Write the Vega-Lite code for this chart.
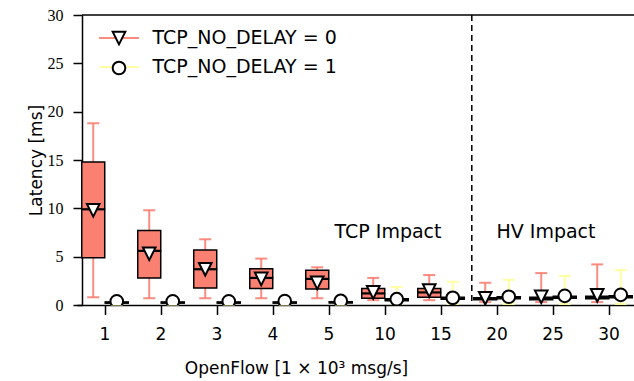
{
  "$schema": "https://vega.github.io/schema/vega-lite/v6.json",
  "width": 552,
  "height": 290,
  "autosize": "none",
  "padding": {"left": 82, "top": 15, "right": 0, "bottom": 76},
  "config": {
    "view": {"stroke": null},
    "font": "DejaVu Sans",
    "axis": {"grid": false, "domainColor": "black", "tickColor": "black", "labelColor": "black", "titleColor": "black", "domainWidth": 1.5, "tickWidth": 1.5, "titleFontWeight": "normal"},
    "axisX": {"labelFont": "DejaVu Sans", "labelFontSize": 17, "labelAngle": 0, "tickSize": 9.5, "labelPadding": 12, "titleFont": "DejaVu Sans", "titleFontSize": 17, "titleX": 214, "titleY": 68, "titleBaseline": "alphabetic", "titleAlign": "center"},
    "axisY": {"labelFont": "Liberation Serif", "labelFontSize": 16, "tickSize": 9, "labelPadding": 10, "titleFont": "DejaVu Sans", "titleFontSize": 17, "titleX": -41, "titleY": 145, "titleBaseline": "alphabetic", "titleAngle": 270, "titleAlign": "center"}
  },
  "layer": [
    {
      "data": {"values": [
        {"cat": "1", "series": "TCP_NO_DELAY = 0", "lo": 0.8, "q1": 4.9, "med": 9.9, "q3": 14.8, "hi": 18.8, "mean": 9.8},
        {"cat": "2", "series": "TCP_NO_DELAY = 0", "lo": 0.7, "q1": 2.8, "med": 5.6, "q3": 7.7, "hi": 9.8, "mean": 5.3},
        {"cat": "3", "series": "TCP_NO_DELAY = 0", "lo": 0.7, "q1": 1.75, "med": 3.7, "q3": 5.7, "hi": 6.8, "mean": 3.7},
        {"cat": "4", "series": "TCP_NO_DELAY = 0", "lo": 0.7, "q1": 1.7, "med": 2.8, "q3": 3.75, "hi": 4.8, "mean": 2.7},
        {"cat": "5", "series": "TCP_NO_DELAY = 0", "lo": 0.7, "q1": 1.65, "med": 2.7, "q3": 3.6, "hi": 3.9, "mean": 2.3},
        {"cat": "10", "series": "TCP_NO_DELAY = 0", "lo": 0.5, "q1": 0.7, "med": 1.2, "q3": 1.7, "hi": 2.8, "mean": 1.3},
        {"cat": "15", "series": "TCP_NO_DELAY = 0", "lo": 0.5, "q1": 0.8, "med": 1.3, "q3": 1.7, "hi": 3.1, "mean": 1.5},
        {"cat": "20", "series": "TCP_NO_DELAY = 0", "lo": 0.3, "q1": 0.55, "med": 0.65, "q3": 0.75, "hi": 2.3, "mean": 0.7},
        {"cat": "25", "series": "TCP_NO_DELAY = 0", "lo": 0.3, "q1": 0.55, "med": 0.7, "q3": 0.8, "hi": 3.3, "mean": 0.85},
        {"cat": "30", "series": "TCP_NO_DELAY = 0", "lo": 0.3, "q1": 0.65, "med": 0.8, "q3": 0.9, "hi": 4.2, "mean": 1.0},
        {"cat": "1", "series": "TCP_NO_DELAY = 1", "lo": 0.05, "q1": 0.2, "med": 0.25, "q3": 0.3, "hi": 0.6, "mean": 0.38},
        {"cat": "2", "series": "TCP_NO_DELAY = 1", "lo": 0.05, "q1": 0.2, "med": 0.25, "q3": 0.3, "hi": 0.6, "mean": 0.38},
        {"cat": "3", "series": "TCP_NO_DELAY = 1", "lo": 0.05, "q1": 0.2, "med": 0.25, "q3": 0.3, "hi": 0.6, "mean": 0.38},
        {"cat": "4", "series": "TCP_NO_DELAY = 1", "lo": 0.05, "q1": 0.2, "med": 0.25, "q3": 0.3, "hi": 0.7, "mean": 0.4},
        {"cat": "5", "series": "TCP_NO_DELAY = 1", "lo": 0.05, "q1": 0.22, "med": 0.28, "q3": 0.34, "hi": 0.8, "mean": 0.42},
        {"cat": "10", "series": "TCP_NO_DELAY = 1", "lo": 0.1, "q1": 0.45, "med": 0.55, "q3": 0.65, "hi": 1.85, "mean": 0.6},
        {"cat": "15", "series": "TCP_NO_DELAY = 1", "lo": 0.1, "q1": 0.6, "med": 0.7, "q3": 0.8, "hi": 2.4, "mean": 0.75},
        {"cat": "20", "series": "TCP_NO_DELAY = 1", "lo": 0.1, "q1": 0.65, "med": 0.75, "q3": 0.85, "hi": 2.6, "mean": 0.85},
        {"cat": "25", "series": "TCP_NO_DELAY = 1", "lo": 0.1, "q1": 0.7, "med": 0.8, "q3": 0.9, "hi": 3.0, "mean": 0.95},
        {"cat": "30", "series": "TCP_NO_DELAY = 1", "lo": 0.1, "q1": 0.75, "med": 0.85, "q3": 0.95, "hi": 3.6, "mean": 1.05}
      ]},
      "encoding": {
        "x": {"field": "cat", "type": "nominal", "title": "OpenFlow [1 × 10³ msg/s]", "scale": {"domain": ["1", "2", "3", "4", "5", "10", "15", "20", "25", "30"], "range": [-5, 555], "paddingInner": 0, "paddingOuter": 0}},
        "xOffset": {"field": "series", "type": "nominal", "scale": {"domain": ["TCP_NO_DELAY = 0", "TCP_NO_DELAY = 1"], "paddingInner": 0, "paddingOuter": 0.19}}
      },
      "layer": [
        {
          "mark": {"type": "rule", "strokeWidth": 2, "opacity": 0.9},
          "encoding": {
            "y": {"field": "lo", "type": "quantitative", "title": "Latency [ms]", "scale": {"domain": [0, 30], "nice": false}, "axis": {"values": [0, 5, 10, 15, 20, 25, 30]}},
            "y2": {"field": "hi"},
            "stroke": {"field": "series", "type": "nominal", "scale": {"domain": ["TCP_NO_DELAY = 0", "TCP_NO_DELAY = 1"], "range": ["#fa8072", "#ffff99"]},
              "legend": {"title": null, "orient": "none", "legendX": 27.5, "legendY": 13.5, "padding": 0, "symbolType": "M -3.16 0 L 3.16 0", "symbolSize": 160, "symbolStrokeWidth": 2, "labelFont": "DejaVu Sans", "labelFontSize": 19, "labelColor": "black", "labelOffset": 24, "labelLimit": 0, "rowPadding": 9}}
          }
        },
        {
          "mark": {"type": "tick", "size": 12, "thickness": 2, "opacity": 0.9},
          "encoding": {
            "y": {"field": "hi", "type": "quantitative", "title": "Latency [ms]"},
            "color": {"field": "series", "type": "nominal", "scale": {"domain": ["TCP_NO_DELAY = 0", "TCP_NO_DELAY = 1"], "range": ["#fa8072", "#ffff99"]}, "legend": null}
          }
        },
        {
          "mark": {"type": "tick", "size": 12, "thickness": 2, "opacity": 0.9},
          "encoding": {
            "y": {"field": "lo", "type": "quantitative", "title": "Latency [ms]"},
            "color": {"field": "series", "type": "nominal", "legend": null}
          }
        },
        {
          "mark": {"type": "bar", "size": 23, "stroke": "black", "strokeWidth": 1.5},
          "encoding": {
            "y": {"field": "q1", "type": "quantitative", "title": "Latency [ms]"},
            "y2": {"field": "q3"},
            "color": {"field": "series", "type": "nominal", "legend": null}
          }
        },
        {
          "mark": {"type": "tick", "size": 24, "thickness": 2.2, "color": "black", "opacity": 1},
          "encoding": {
            "y": {"field": "med", "type": "quantitative", "title": "Latency [ms]"}
          }
        },
        {
          "mark": {"type": "point", "filled": true, "fill": "white", "stroke": "black", "strokeWidth": 2, "size": 160, "opacity": 1, "clip": true},
          "encoding": {
            "y": {"field": "mean", "type": "quantitative", "title": "Latency [ms]"},
            "shape": {"field": "series", "type": "nominal", "scale": {"range": ["M -1 -1 L 1 -1 L 0 1 Z", "circle"]},
              "legend": {"title": null, "orient": "none", "legendX": 27.5, "legendY": 13.5, "padding": 0, "symbolSize": 160, "symbolStrokeWidth": 2, "labelFont": "DejaVu Sans", "labelFontSize": 19, "labelExpr": "''", "labelOffset": 24, "labelLimit": 0, "rowPadding": 9}}
          }
        }
      ]
    },
    {
      "data": {"values": [{"cat": "20"}]},
      "mark": {"type": "rule", "strokeDash": [6, 4], "strokeWidth": 1.5, "color": "black"},
      "encoding": {
        "x": {"field": "cat", "type": "nominal", "bandPosition": 0.05, "title": "OpenFlow [1 × 10³ msg/s]"}
      }
    },
    {
      "data": {"values": [{"top": 30}]},
      "mark": {"type": "rule", "strokeWidth": 1.5, "color": "black"},
      "encoding": {
        "y": {"field": "top", "type": "quantitative", "title": "Latency [ms]"}
      }
    },
    {
      "data": {"values": [{"cat": "10", "y": 7.6, "label": "TCP Impact"}]},
      "mark": {"type": "text", "font": "DejaVu Sans", "fontSize": 19, "color": "black", "dx": 3, "baseline": "middle"},
      "encoding": {
        "x": {"field": "cat", "type": "nominal", "title": "OpenFlow [1 × 10³ msg/s]"},
        "y": {"field": "y", "type": "quantitative", "title": "Latency [ms]"},
        "text": {"field": "label"}
      }
    },
    {
      "data": {"values": [{"cat": "25", "y": 7.6, "label": "HV Impact"}]},
      "mark": {"type": "text", "font": "DejaVu Sans", "fontSize": 19, "color": "black", "dx": -7, "baseline": "middle"},
      "encoding": {
        "x": {"field": "cat", "type": "nominal", "title": "OpenFlow [1 × 10³ msg/s]"},
        "y": {"field": "y", "type": "quantitative", "title": "Latency [ms]"},
        "text": {"field": "label"}
      }
    }
  ]
}
